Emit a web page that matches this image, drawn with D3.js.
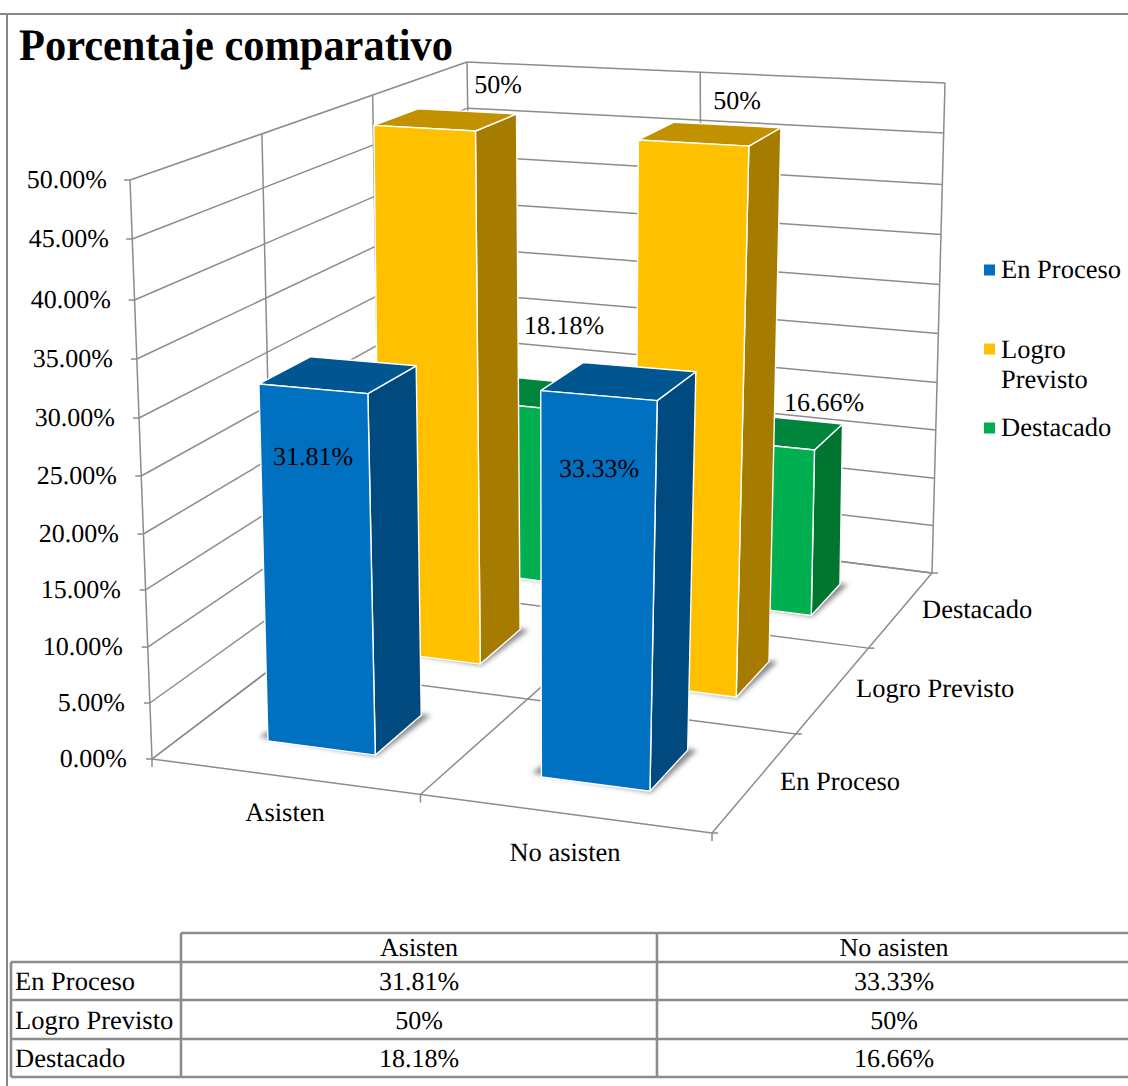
<!DOCTYPE html>
<html><head><meta charset="utf-8">
<script src="https://cdnjs.cloudflare.com/ajax/libs/d3/7.8.5/d3.min.js"></script>
<style>html,body{margin:0;padding:0;background:#fff}svg{display:block}text{font-family:"Liberation Serif",serif;fill:#000;text-rendering:geometricPrecision}</style>
</head><body><svg id="c" width="1128" height="1086"></svg>
<script>
const categories = ["Asisten", "No asisten"];
const seriesNames = ["En Proceso", "Logro Previsto", "Destacado"];
const enProceso = [31.81, 33.33];
const logroPrevisto = [50, 50];
const destacado = [18.18, 16.66];
const yTicks = [0, 5, 10, 15, 20, 25, 30, 35, 40, 45, 50];
const titleText = "Porcentaje comparativo";
const seriesValues = [enProceso, logroPrevisto, destacado];

const palette = [
  {front:"#0070C0", side:"#004A80", top:"#005691"},
  {front:"#FFC000", side:"#A67C00", top:"#C29100"},
  {front:"#00B050", side:"#00752F", top:"#00853C"}
];
const gridColor = "#8c8c8c";

// corners of floor and ceiling of the chart box: (u,v) = (0,0),(1,0),(1,1),(0,1)
const floorQuad = [[152,759],[712,833],[932,573],[474,515]];
const ceilQuad  = [[130,180],[732,215],[945,83],[467,62]];
const barCeilQuad = [[134,180],[735,220],[945,83],[471,62]];
// fraction of the box height reached by each tick (slight perspective along the vertical)
const heightFrac = [0,0.0967,0.1934,0.2919,0.3886,0.4888,0.5889,0.6908,0.7927,0.8981,1];

function homography(q){
  const [p0,p1,p2,p3]=q;
  const dx1=p1[0]-p2[0],dx2=p3[0]-p2[0],sx=p0[0]-p1[0]+p2[0]-p3[0];
  const dy1=p1[1]-p2[1],dy2=p3[1]-p2[1],sy=p0[1]-p1[1]+p2[1]-p3[1];
  const den=dx1*dy2-dx2*dy1;
  const g=(sx*dy2-dx2*sy)/den,h=(dx1*sy-sx*dy1)/den;
  const a=p1[0]-p0[0]+g*p1[0],b=p3[0]-p0[0]+h*p3[0],c=p0[0];
  const d=p1[1]-p0[1]+g*p1[1],e=p3[1]-p0[1]+h*p3[1],f=p0[1];
  return (u,v)=>{const w=g*u+h*v+1;return [(a*u+b*v+c)/w,(d*u+e*v+f)/w];};
}
const F=homography(floorQuad),T=homography(ceilQuad),TB=homography(barCeilQuad);
const h=d3.scaleLinear().domain(yTicks).range(heightFrac);
const mix=(a,b,t)=>[a[0]+(b[0]-a[0])*t,a[1]+(b[1]-a[1])*t];
const P=(u,v,val)=>mix(F(u,v),T(u,v),h(val));
const PB=(u,v,val)=>mix(F(u,v),TB(u,v),h(val));

// category positions across the floor (front edge), series positions in depth
const uBound=d3.scaleLinear().domain([0,0.5,1,1.5,2]).range([0,0.243,0.482,0.743,1]);
const uBack=d3.scaleLinear().domain([0,1,2]).range([0,0.5,1]);
const barU=0.197;
const vBand=d3.scaleBand().domain(seriesNames).range([0,1]).paddingInner(0.58).paddingOuter(0.29);
const vStep=d3.scaleLinear().domain([0,3]).range([0,1]);
const tickLabelX=d3.scaleLinear().domain([0,50]).range([127,107]);

const svg=d3.select("#c");
const defs=svg.append("defs");
defs.append("filter").attr("id","sh").attr("x","-30%").attr("y","-30%").attr("width","160%").attr("height","160%")
  .append("feGaussianBlur").attr("stdDeviation",2.4);

const line=d3.line();
const seg=(g,a,b,w=1.5,c=gridColor)=>g.append("line").attr("x1",a[0]).attr("y1",a[1]).attr("x2",b[0]).attr("y2",b[1]).attr("stroke",c).attr("stroke-width",w);

// outer frame
const frame=svg.append("g");
seg(frame,[0,14],[1128,14],2,"#868686");
seg(frame,[7,14],[7,1086],2,"#868686");

// walls and floor
const grid=svg.append("g");
yTicks.forEach(t=>{
  seg(grid,P(0,0,t),P(0,1,t));
  seg(grid,P(0,1,t),P(1,1,t));
  const l=P(0,0,t);
  seg(grid,[l[0]-6,l[1]],l);
});
d3.range(0,4).forEach(i=>{
  const v=vStep(i);
  seg(grid,P(0,v,0),P(0,v,50));
  seg(grid,F(0,v),F(1,v));
  const r=F(1,v);
  seg(grid,r,[r[0]+6,r[1]]);
});
seg(grid,P(1,1,0),P(1,1,50));
seg(grid,P(uBack(1),1,0),P(uBack(1),1,50));
d3.range(0,3).forEach(i=>{
  const b=F(uBound(i),0);
  seg(grid,F(uBack(i),1),b);
  seg(grid,b,[b[0],b[1]+8]);
});

// bars, far to near
const bars=svg.append("g");
d3.range(2,-1,-1).forEach(s=>{
  const name=seriesNames[s],v0=vBand(name),v1=v0+vBand.bandwidth(),col=palette[s];
  categories.forEach((cat,c)=>{
    const val=seriesValues[s][c];
    const uc=uBound(c*1+0.5),u0=uc-barU/2,u1=uc+barU/2;
    const g=bars.append("g");
    g.append("path").attr("filter","url(#sh)").attr("fill","#8a8a8a")
      .attr("d",line([F(u0-0.022,v0+0.008),F(u1+0.004,v0-0.003),F(u1+0.016,v1+0.004),F(u0,v1)])+"Z");
    const poly=(pts,fill)=>g.append("path").attr("d",line(pts)+"Z").attr("fill",fill)
      .attr("stroke","#fff").attr("stroke-width",1.4).attr("stroke-linejoin","round");
    poly([PB(u1,v0,0),PB(u1,v1,0),PB(u1,v1,val),PB(u1,v0,val)],col.side);
    poly([PB(u0,v0,val),PB(u1,v0,val),PB(u1,v1,val),PB(u0,v1,val)],col.top);
    poly([PB(u0,v0,0),PB(u1,v0,0),PB(u1,v0,val),PB(u0,v0,val)],col.front);
  });
});

// axis labels
const fs=26.5;
const txt=(x,y,s,anchor="start",size=fs,weight="normal")=>svg.append("text").attr("x",x).attr("y",y).attr("text-anchor",anchor)
  .attr("font-size",size).attr("font-weight",weight).text(s);
yTicks.forEach(t=>{
  const l=P(0,0,t);
  txt(tickLabelX(t),l[1]+8,d3.format(".2f")(t)+"%","end",26);
});
const catLabelPos=[[285,821],[565,861]];
categories.forEach((c,i)=>txt(catLabelPos[i][0],catLabelPos[i][1],c,"middle"));
const depthLabelPos=[[780,790],[856,697],[922,618]];
seriesNames.forEach((n,i)=>txt(depthLabelPos[i][0],depthLabelPos[i][1],n));

// data labels
const fmtPct=v=>v+"%";
const dataLabelPos=[[[313,465],[599,477]],[[498,93],[737,109]],[[564,334],[824,411]]];
seriesValues.forEach((vals,s)=>vals.forEach((v,c)=>txt(dataLabelPos[s][c][0],dataLabelPos[s][c][1],fmtPct(v),"middle",26)));

// title
txt(19,60,titleText,"start",45,"bold").attr("textLength",434).attr("lengthAdjust","spacingAndGlyphs");

// legend
const legendY=[[270,[278]],[349,[358,388]],[428,[436]]];
const legendLines=[["En Proceso"],["Logro","Previsto"],["Destacado"]];
seriesNames.forEach((n,i)=>{
  svg.append("rect").attr("x",984).attr("y",legendY[i][0]-5.5).attr("width",11).attr("height",11).attr("fill",palette[i].front);
  legendLines[i].forEach((l,j)=>txt(1001,legendY[i][1][j],l));
});

// data table
const tb=svg.append("g");
const rowY=[933,962,1000,1039,1077];
const colX=[11,181,657,1128];
const tw=2.6;
seg(tb,[colX[1],rowY[0]],[colX[3],rowY[0]],tw);
rowY.slice(1).forEach(y=>seg(tb,[colX[0],y],[colX[3],y],tw));
seg(tb,[colX[0],rowY[1]],[colX[0],rowY[4]],tw);
seg(tb,[colX[1],rowY[0]],[colX[1],rowY[4]],tw);
seg(tb,[colX[2],rowY[0]],[colX[2],rowY[4]],tw);
const colC=[419,894];
categories.forEach((c,i)=>txt(colC[i],956,c,"middle",26));
const rowBase=[990,1029,1067];
seriesNames.forEach((n,s)=>{
  txt(15,rowBase[s],n);
  seriesValues[s].forEach((v,c)=>txt(colC[c],rowBase[s],fmtPct(v),"middle",26));
});
</script></body></html>
